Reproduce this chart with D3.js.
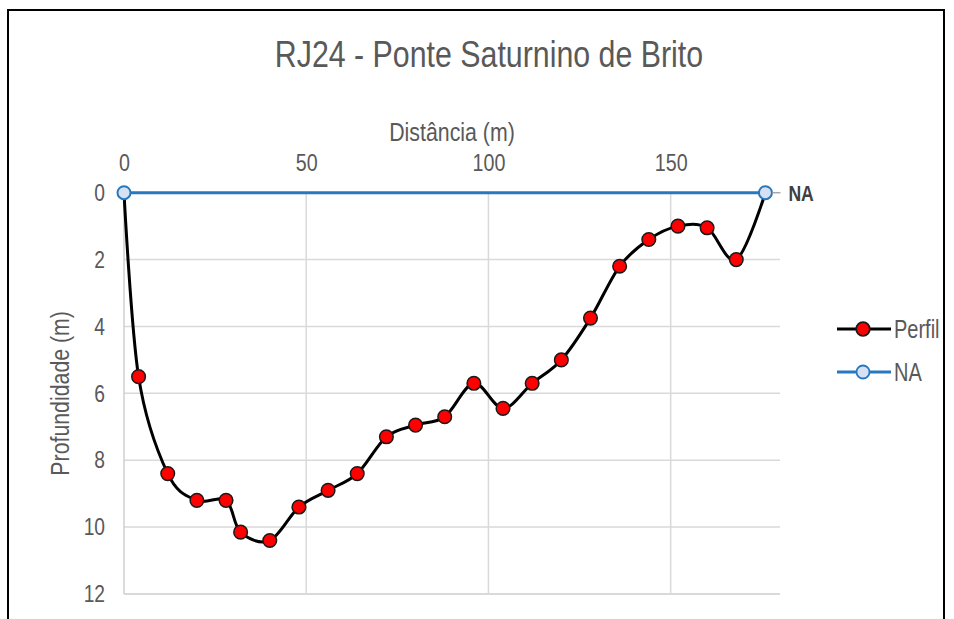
<!DOCTYPE html>
<meta charset="utf-8">
<script src="https://d3js.org/d3.v7.min.js"></script>
<style>
  body { margin: 0; background: #fff; }
  text { font-family: "Liberation Sans", Arial, sans-serif; fill: #595959; }
  /* the reference uses a condensed face, so squeeze the glyphs */
  .nar { transform-box: fill-box; transform: scaleX(0.82); transform-origin: center; }
  .nar-r { transform-box: fill-box; transform: scaleX(0.8); transform-origin: right center; }
  .nar-l { transform-box: fill-box; transform: scaleX(0.8); transform-origin: left center; }
</style>
<div id="chart"></div>
<script>

// Perfil: distance (m) and depth (m)
var distancia = [0, 4, 12, 20, 28, 32, 40, 48, 56, 64, 72, 80, 88, 96, 104, 112, 120, 128, 136, 144, 152, 160, 168, 176];
var profundidade = [0, 5.5, 8.4, 9.2, 9.2, 10.15, 10.4, 9.4, 8.9, 8.4, 7.3, 6.95, 6.7, 5.7, 6.45, 5.7, 5.0, 3.75, 2.2, 1.4, 1.0, 1.05, 2.0, 0];

// NA (water level)
var naDistancia = [0, 176];
var naProf = [0, 0];

var xTicks = [0, 50, 100, 150];
var yTicks = [0, 2, 4, 6, 8, 10, 12];

var W = 954, H = 619;

var svg = d3.select("#chart").append("svg")
  .attr("width", W)
  .attr("height", H);

// frame
svg.append("path")
  .attr("d", "M8," + H + " V10 H944 V" + H)
  .attr("fill", "none")
  .attr("stroke", "#000")
  .attr("stroke-width", 2);

var x = d3.scaleLinear().domain([0, 180]).range([124, 780]);
var y = d3.scaleLinear().domain([0, 12]).range([192.7, 594]);

// grid
svg.append("g").selectAll("line")
  .data(yTicks.filter(function(d) { return d > 0; }))
  .enter().append("line")
    .attr("x1", x(0)).attr("x2", x(180))
    .attr("y1", function(d) { return y(d); })
    .attr("y2", function(d) { return y(d); })
    .attr("stroke", "#d9d9d9")
    .attr("stroke-width", function(d) { return d == 12 ? 2 : 1.5; });

svg.append("g").selectAll("line")
  .data(xTicks)
  .enter().append("line")
    .attr("x1", function(d) { return x(d); })
    .attr("x2", function(d) { return x(d); })
    .attr("y1", y(0)).attr("y2", y(12))
    .attr("stroke", function(d) { return d == 0 ? "#cfcfcf" : "#d9d9d9"; })
    .attr("stroke-width", 1.5);

// axes
var gx = svg.append("g")
  .attr("transform", "translate(0," + y(0) + ")")
  .call(d3.axisTop(x).tickValues(xTicks).tickSize(0).tickPadding(22));
gx.select(".domain").remove();
gx.selectAll("text")
  .attr("class", "nar")
  .style("font-size", "24px")
  .attr("fill", "#595959");

var gy = svg.append("g")
  .attr("transform", "translate(" + x(0) + ",0)")
  .call(d3.axisLeft(y).tickValues(yTicks).tickSize(0).tickPadding(19));
gy.select(".domain").remove();
gy.selectAll("text")
  .attr("class", "nar-r")
  .style("font-size", "24px")
  .attr("fill", "#595959");
svg.selectAll("g").attr("font-family", null);

// titles
svg.append("text")
  .attr("class", "nar")
  .attr("x", 489).attr("y", 67)
  .attr("text-anchor", "middle")
  .style("font-size", "37px")
  .text("RJ24 - Ponte Saturnino de Brito");

svg.append("text")
  .attr("class", "nar")
  .attr("x", (x(0) + x(180)) / 2).attr("y", 141)
  .attr("text-anchor", "middle")
  .style("font-size", "26px")
  .text("Distância (m)");

svg.append("text")
  .attr("transform", "translate(69," + (y(0) + y(12)) / 2 + ") rotate(-90) scale(0.82,1)")
  .attr("text-anchor", "middle")
  .style("font-size", "26px")
  .text("Profundidade (m)");

// Perfil line
var perfil = distancia.map(function(d, i) { return {d: d, p: profundidade[i]}; });
var na = naDistancia.map(function(d, i) { return {d: d, p: naProf[i]}; });

var line = d3.line()
  .x(function(d) { return x(d.d); })
  .y(function(d) { return y(d.p); });

svg.append("path")
  .datum(perfil)
  .attr("d", line.curve(d3.curveCardinal.tension(0)))
  .attr("fill", "none")
  .attr("stroke", "#000")
  .attr("stroke-width", 3);

svg.append("g").selectAll("circle")
  .data(perfil.filter(function(d) { return d.p > 0; }))
  .enter().append("circle")
    .attr("cx", function(d) { return x(d.d); })
    .attr("cy", function(d) { return y(d.p); })
    .attr("r", 6.8)
    .attr("fill", "#ff0000")
    .attr("stroke", "#1a1a1a")
    .attr("stroke-width", 1.5);

// NA line
var lineNA = d3.line()
  .x(function(d) { return x(d.d); })
  .y(function(d) { return y(d.p); });

svg.append("path")
  .datum(na)
  .attr("d", lineNA)
  .attr("fill", "none")
  .attr("stroke", "#2878c0")
  .attr("stroke-width", 3);

svg.append("g").selectAll("circle")
  .data(na)
  .enter().append("circle")
    .attr("cx", function(d) { return x(d.d); })
    .attr("cy", function(d) { return y(d.p); })
    .attr("r", 6.5)
    .attr("fill", "#d6e2f3")
    .attr("stroke", "#2878c0")
    .attr("stroke-width", 2);

// NA data label with leader
var last = na[na.length - 1];
svg.append("line")
  .attr("x1", x(last.d) + 7).attr("x2", x(last.d) + 15)
  .attr("y1", y(last.p)).attr("y2", y(last.p))
  .attr("stroke", "#a6a6a6")
  .attr("stroke-width", 1.5);
svg.append("text")
  .attr("class", "nar-l")
  .attr("x", x(last.d) + 23).attr("y", y(last.p) + 8)
  .style("font-size", "22px")
  .style("font-weight", "bold")
  .style("fill", "#404040")
  .text("NA");

// legend
var legend = [
  {name: "Perfil", stroke: "#000", fill: "#ff0000", mstroke: "#1a1a1a", r: 6.8},
  {name: "NA", stroke: "#2878c0", fill: "#d6e2f3", mstroke: "#2878c0", r: 6.5}
];
var lg = svg.append("g").selectAll("g")
  .data(legend)
  .enter().append("g")
    .attr("transform", function(d, i) { return "translate(837," + (329 + i * 43) + ")"; });
lg.append("line")
  .attr("x1", 0).attr("x2", 54)
  .attr("stroke", function(d) { return d.stroke; })
  .attr("stroke-width", 3);
lg.append("circle")
  .attr("cx", 26)
  .attr("r", function(d) { return d.r; })
  .attr("fill", function(d) { return d.fill; })
  .attr("stroke", function(d) { return d.mstroke; })
  .attr("stroke-width", 1.8);
lg.append("text")
  .attr("class", "nar-l")
  .attr("x", 57).attr("y", 8.5)
  .style("font-size", "25px")
  .text(function(d) { return d.name; });

</script>
